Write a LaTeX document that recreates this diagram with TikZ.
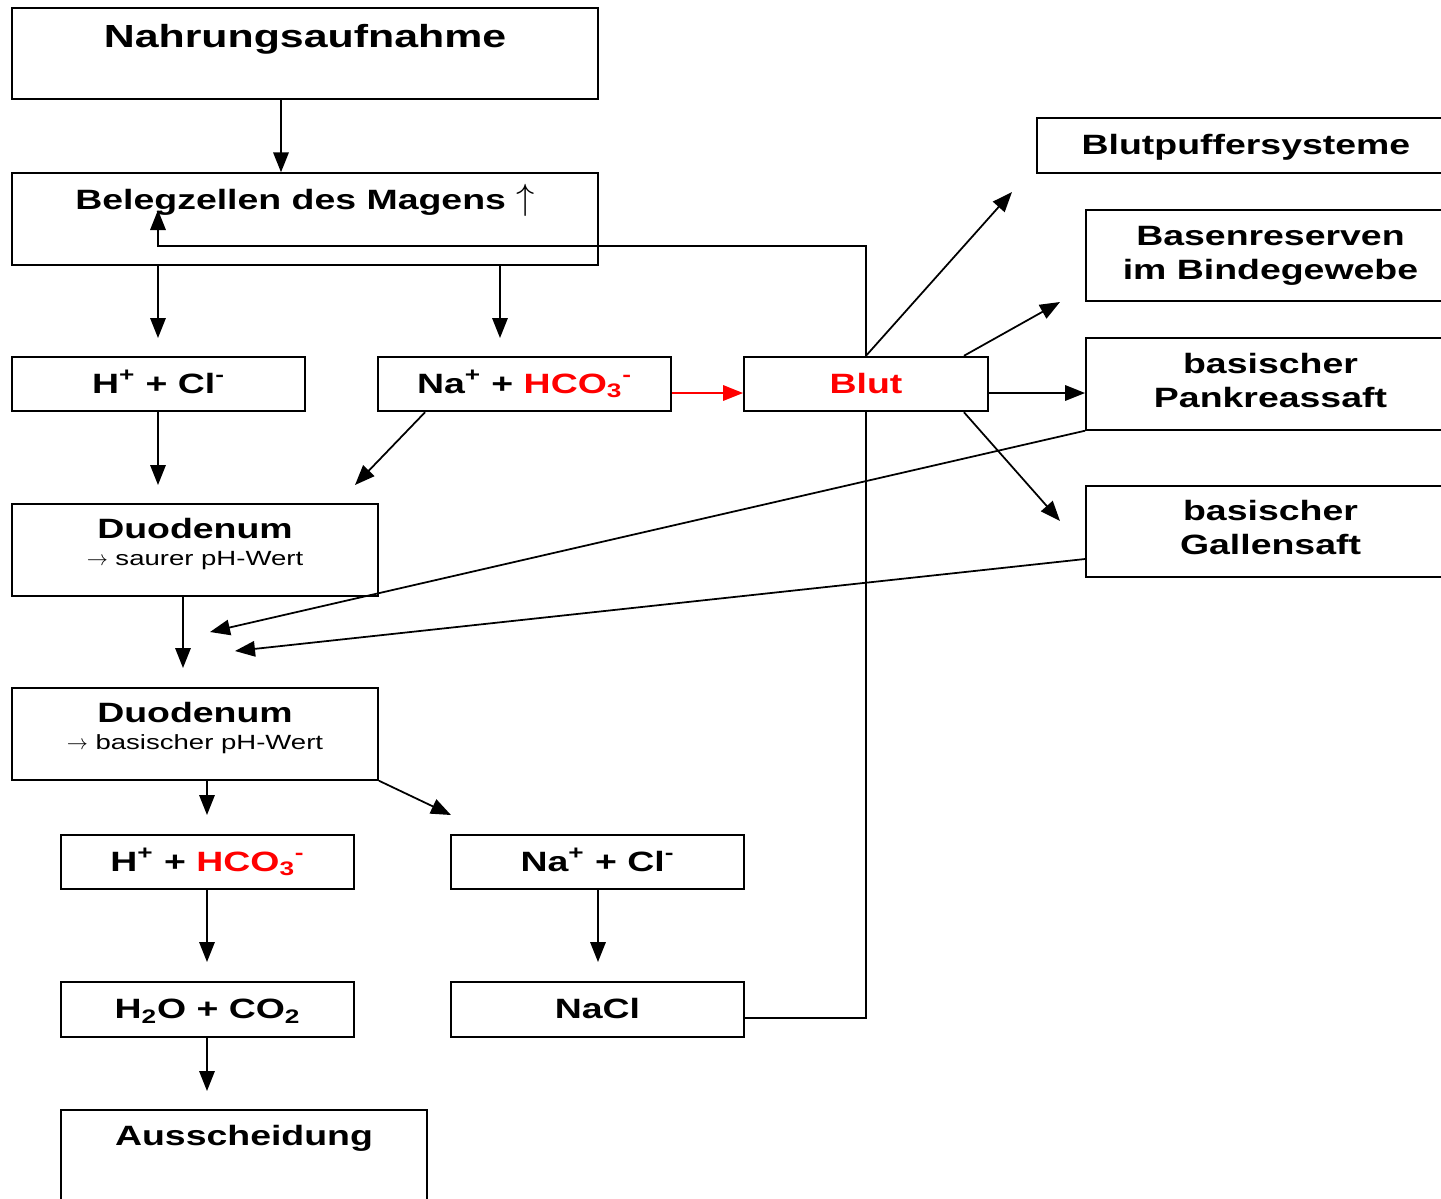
\documentclass[tikz,border=0pt]{standalone}
\usepackage{fontspec}
\setmainfont{Liberation Sans}[FakeStretch=1.34]
\usetikzlibrary{arrows.meta,calc}

\newcommand\boxfont{\bfseries\fontsize{15.9}{19.3}\selectfont}
\newcommand\titlefont{\bfseries\fontsize{18.2}{22}\selectfont}
\newcommand\subfont{\mdseries\fontsize{11.7}{14}\selectfont}
\newcommand\uparr{{\fontsize{20}{20}\selectfont$\uparrow$}}

\tikzset{
  box/.style={draw, line width=1.1pt, fill=white, inner sep=0pt, align=center, font=\boxfont},
  lowbox/.style={box, minimum height=1.09cm, text height=0.4cm, text depth=0.04cm},
  highbox/.style={box, minimum height=1.83cm},
  arr/.style={line width=1pt, -{Triangle[length=0.4cm,width=0.31cm]}},
}

\begin{document}
\begin{tikzpicture}[x=0.02cm, y=-0.02cm]
		%%%%% START %%%%%
		\useasboundingbox (0,0) rectangle (1441,1198);
		\clip (0,0) rectangle (1441,1198);
		
		% left column
		\node[highbox, minimum width=11.72cm, font=\titlefont, text height=0.46cm, text depth=0.72cm] (nahrung) at (305,53.5) {Nahrungsaufnahme};
		\node[highbox, minimum width=11.72cm, text height=0.4cm, text depth=0.8cm] (magen) at (305,219) {Belegzellen des Magens \uparr};
		\node[lowbox, minimum width=5.86cm] (hcl) at (158.5,384) {H\textsuperscript{+} + Cl\textsuperscript{-}};
		\node[lowbox, minimum width=5.86cm] (nahco) at (524.5,384) {Na\textsuperscript{+} + \textcolor{red}{HCO\textsubscript{3}\textsuperscript{-}}};
		\node[highbox, minimum width=7.32cm, text height=0.95cm, text depth=0.34cm] (duo1) at (195,550) {Duodenum\\[-4pt]{\subfont$\rightarrow$ saurer pH-Wert}};
		\node[highbox, minimum width=7.32cm, text height=0.95cm, text depth=0.34cm] (duo2) at (195,734) {Duodenum\\[-4pt]{\subfont$\rightarrow$ basischer pH-Wert}};
		\node[lowbox, minimum width=5.86cm] (hhco) at (207.5,862) {H\textsuperscript{+} + \textcolor{red}{HCO\textsubscript{3}\textsuperscript{-}}};
		\node[lowbox, minimum width=5.86cm] (naclion) at (597.5,862) {Na\textsuperscript{+} + Cl\textsuperscript{-}};
		\node[lowbox, minimum width=5.86cm] (water) at (207.5,1009.5) {H\textsubscript{2}O + CO\textsubscript{2}};
		\node[lowbox, minimum width=5.86cm] (nacl) at (597.5,1009.5) {NaCl};
		\node[highbox, minimum width=7.32cm, text height=0.4cm, text depth=0.84cm] (aus) at (244,1156) {Ausscheidung};
		
		% right column
		\node[lowbox, minimum width=8.36cm] (puffer) at (1246,145.5) {Blutpuffersysteme};
		\node[highbox, minimum width=7.38cm] (basen) at (1270.5,255.5) {Basenreserven\\im Bindegewebe};
		\node[highbox, minimum width=7.38cm, text depth=0.16cm] (pankreas) at (1270.5,384) {basischer\\Pankreassaft};
		\node[highbox, minimum width=7.38cm, text depth=0.16cm] (galle) at (1270.5,531.5) {basischer\\Gallensaft};
		
		% arrow tips
		\coordinate (t1) at (158,338);
		\coordinate (t2) at (500,338);
		\coordinate (t3) at (158,485);
		\coordinate (t4) at (355,485);
		\coordinate (t5) at (183,668);
		\coordinate (t6) at (207,815);
		\coordinate (t7) at (451,815);
		\coordinate (t8) at (207,962);
		\coordinate (t9) at (598,962);
		\coordinate (t10) at (207,1091);
		\coordinate (tpuffer) at (1012,192);
		\coordinate (tbasen) at (1060,302);
		\coordinate (tgalle) at (1060,521);
		\coordinate (tsaft) at (210,632);
		\coordinate (tbile) at (235,651);
		\coordinate (kick) at (866,1018);
		\coordinate (turn) at (158,246);
		\coordinate (tmagen) at (158,210);
		
		\draw[arr] ($(nahrung.south)+(-24,0)$) -- ($(magen.north)+(-24,0)$);
		\draw[arr] (magen.south -| t1) -- (t1);
		\draw[arr] (magen.south -| t2) -- (t2);
		\draw[arr] (hcl.south -| t3) -- (t3);
		\draw[arr] ($(nahco.south west)+(48,0)$) -- (t4);
		\draw[arr] (duo1.south -| t5) -- (t5);
		\draw[arr] (duo2.south -| t6) -- (t6);
		\draw[arr] (duo2.south east) -- (t7);
		\draw[arr] (hhco.south -| t8) -- (t8);
		\draw[arr] (naclion.south -| t9) -- (t9);
		\draw[arr] (water.south -| t10) -- (t10);
		\draw[arr] (pankreas.south west) -- (tsaft);
		\draw[arr] ($(galle.west)+(0,27.5)$) -- (tbile);
		
		% NaCl back to the stomach
		\draw[arr] (nacl.east |- kick) -- (kick) |- (turn) -- (tmagen);
		
		\node[lowbox, minimum width=4.88cm, text=red] (blut) at (866,384) {Blut};
		\draw[arr, red] ($(nahco.east)+(0,9)$) -- ($(blut.west)+(0,9)$);
		\draw[arr] (blut.north) -- (tpuffer);
		\draw[arr] ($(blut.north east)+(-25,0)$) -- (tbasen);
		\draw[arr] ($(blut.east)+(0,9)$) -- ($(pankreas.west)+(0,9)$);
		\draw[arr] ($(blut.south east)+(-25,0)$) -- (tgalle);
		%%%%% END %%%%%
\end{tikzpicture}
\end{document}
